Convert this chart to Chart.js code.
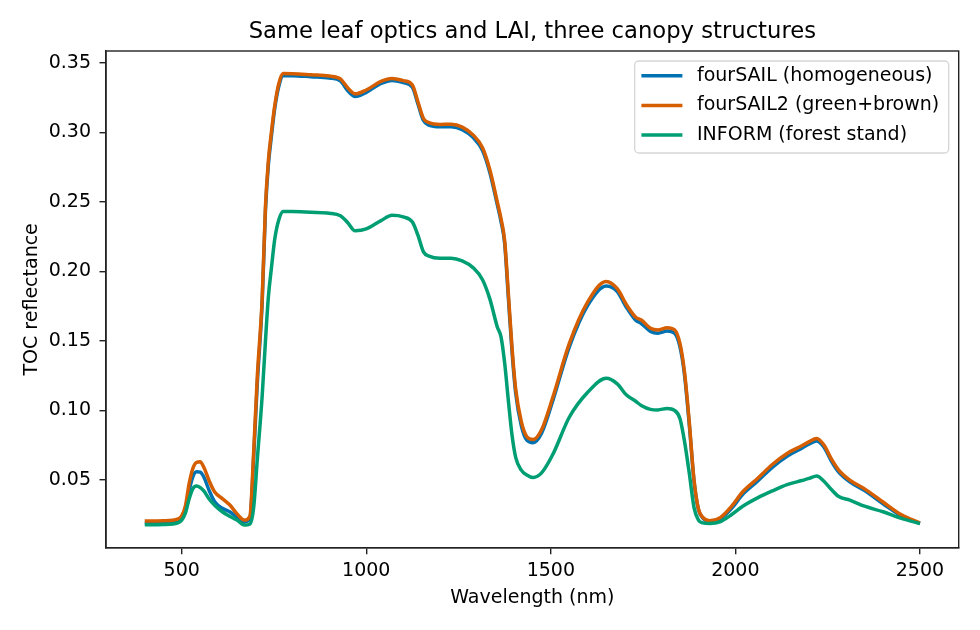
<!DOCTYPE html>
<html>
<head>
<meta charset="utf-8">
<script src="https://cdn.jsdelivr.net/npm/chart.js@4/dist/chart.umd.min.js"></script>
<style>
  html, body { margin: 0; padding: 0; background: #fff; }
  #wrap { width: 980px; height: 630px; }
</style>
</head>
<body>
<div id="wrap"><canvas id="reflChart" width="980" height="630"></canvas></div>
<script>
// wavelengths (nm) and TOC reflectance
const wavelengths = [400, 450, 490, 500, 510, 520, 530, 540, 550, 560, 575, 590, 610, 630, 650, 670, 685, 695, 705, 718,
  727, 735, 743, 752, 763, 775, 800, 850, 900, 930, 950, 970, 1000, 1040, 1070, 1100, 1125, 1140, 1155, 1170,
  1200, 1230, 1260, 1290, 1315, 1335, 1355, 1365, 1375, 1385, 1395, 1405, 1420, 1435, 1452, 1475, 1505, 1550, 1600, 1650,
  1680, 1705, 1730, 1745, 1770, 1790, 1815, 1835, 1850, 1862, 1875, 1888, 1900, 1912, 1930, 1960, 1990, 2020, 2060, 2100,
  2140, 2180, 2200, 2220, 2240, 2260, 2280, 2310, 2350, 2400, 2450, 2500];

const fourSAIL = [0.019, 0.0192, 0.0205, 0.0225, 0.029, 0.042, 0.052, 0.0558, 0.0555, 0.052, 0.042, 0.034, 0.0295, 0.027, 0.0232, 0.0197, 0.022, 0.066, 0.12, 0.177,
  0.244, 0.277, 0.297, 0.317, 0.333, 0.3408, 0.3408, 0.34, 0.3391, 0.337, 0.33, 0.3258, 0.3288, 0.3352, 0.3374, 0.3358, 0.3325, 0.3205, 0.3085, 0.3052,
  0.304, 0.304, 0.302, 0.2962, 0.287, 0.271, 0.248, 0.236, 0.22, 0.181, 0.142, 0.112, 0.089, 0.0785, 0.0767, 0.0835, 0.1065, 0.1455, 0.1755, 0.1895,
  0.1855, 0.174, 0.1648, 0.1625, 0.1568, 0.1555, 0.157, 0.1555, 0.1455, 0.126, 0.09, 0.049, 0.0285, 0.0225, 0.02, 0.0222, 0.0295, 0.0395, 0.049, 0.059,
  0.067, 0.0728, 0.0758, 0.078, 0.0735, 0.0635, 0.0555, 0.0485, 0.0422, 0.0328, 0.024, 0.0185];

const fourSAIL2 = [0.0203, 0.0205, 0.0218, 0.024, 0.031, 0.047, 0.058, 0.0625, 0.063, 0.059, 0.049, 0.041, 0.0365, 0.032, 0.0255, 0.021, 0.024, 0.07, 0.125, 0.18,
  0.247, 0.28, 0.3, 0.319, 0.335, 0.3423, 0.3422, 0.3414, 0.3405, 0.3385, 0.332, 0.3277, 0.3305, 0.3367, 0.3388, 0.3372, 0.334, 0.322, 0.31, 0.307,
  0.3057, 0.3058, 0.3038, 0.298, 0.289, 0.273, 0.25, 0.238, 0.222, 0.184, 0.145, 0.115, 0.092, 0.081, 0.079, 0.086, 0.109, 0.148, 0.178, 0.1927,
  0.1875, 0.176, 0.167, 0.165, 0.159, 0.1578, 0.1595, 0.158, 0.148, 0.128, 0.092, 0.05, 0.029, 0.023, 0.0205, 0.023, 0.031, 0.0414, 0.051, 0.061,
  0.069, 0.0745, 0.0775, 0.0798, 0.075, 0.065, 0.057, 0.0498, 0.0435, 0.034, 0.0248, 0.019];

const inform = [0.0176, 0.0178, 0.019, 0.021, 0.026, 0.036, 0.0435, 0.0455, 0.0445, 0.042, 0.036, 0.0315, 0.027, 0.0238, 0.021, 0.0174, 0.0182, 0.03, 0.065, 0.11,
  0.15, 0.182, 0.202, 0.223, 0.237, 0.2431, 0.243, 0.2425, 0.2418, 0.24, 0.235, 0.2292, 0.2305, 0.2365, 0.2403, 0.2392, 0.2355, 0.226, 0.214, 0.211,
  0.2095, 0.2095, 0.2075, 0.2025, 0.194, 0.18, 0.16, 0.153, 0.134, 0.107, 0.082, 0.066, 0.057, 0.0535, 0.0517, 0.055, 0.068, 0.095, 0.113, 0.123,
  0.119, 0.111, 0.1065, 0.1035, 0.1007, 0.1003, 0.1014, 0.1, 0.094, 0.078, 0.055, 0.03, 0.021, 0.019, 0.0186, 0.02, 0.025, 0.031, 0.037, 0.042,
  0.0465, 0.0495, 0.051, 0.0527, 0.049, 0.043, 0.038, 0.0354, 0.031, 0.027, 0.0222, 0.0186];

const seriesLabels = ['fourSAIL (homogeneous)', 'fourSAIL2 (green+brown)', 'INFORM (forest stand)'];
const seriesColors = ['#0072B2', '#D55E00', '#009E73'];
const xTicks = [500, 1000, 1500, 2000, 2500];
const yTicks = [0.05, 0.10, 0.15, 0.20, 0.25, 0.30, 0.35];
const chartTitle = 'Same leaf optics and LAI, three canopy structures';

const FONT = "'DejaVu Sans', sans-serif";

function toPoints(values) {
  return wavelengths.map((w, i) => ({ x: w, y: values[i] }));
}

// matplotlib-like 5% margins
const allY = fourSAIL.concat(fourSAIL2, inform);
const yLo = Math.min(...allY), yHi = Math.max(...allY);
const xLo = Math.min(...wavelengths), xHi = Math.max(...wavelengths);
const yPad = (yHi - yLo) * 0.05, xPad = (xHi - xLo) * 0.05;

// box around the axes + title centred over the plot area
const frame = {
  id: 'frame',
  afterDraw(chart) {
    const { ctx, chartArea: a } = chart;
    ctx.save();
    ctx.strokeStyle = '#222';
    ctx.lineWidth = 1.4;
    ctx.strokeRect(a.left, a.top, a.right - a.left, a.bottom - a.top);
    ctx.fillStyle = '#000';
    ctx.font = '22.7px ' + FONT;
    ctx.textAlign = 'center';
    ctx.textBaseline = 'middle';
    ctx.fillText(chartTitle, (a.left + a.right) / 2, a.top - 19);
    ctx.restore();
  }
};

const legendBox = {
  id: 'legendBox',
  afterDraw(chart) {
    const { ctx, chartArea: a } = chart;
    const w = 314, h = 92;
    const x = a.right - 10 - w, y = a.top + 10;
    ctx.save();
    ctx.fillStyle = 'rgba(255,255,255,0.8)';
    ctx.strokeStyle = '#d6d6d6';
    ctx.lineWidth = 1.3;
    ctx.beginPath();
    ctx.roundRect(x, y, w, h, 4);
    ctx.fill();
    ctx.stroke();
    ctx.font = '19px ' + FONT;
    ctx.textBaseline = 'middle';
    ctx.textAlign = 'left';
    chart.data.datasets.forEach((ds, i) => {
      const ry = y + 14.7 + i * 29.7;
      ctx.strokeStyle = ds.borderColor;
      ctx.lineWidth = 3.5;
      ctx.beginPath();
      ctx.moveTo(x + 6.7, ry);
      ctx.lineTo(x + 47.7, ry);
      ctx.stroke();
      ctx.fillStyle = '#000';
      ctx.fillText(ds.label, x + 62.3, ry);
    });
    ctx.restore();
  }
};

const datasets = [fourSAIL, fourSAIL2, inform].map((vals, i) => ({
  label: seriesLabels[i],
  data: toPoints(vals),
  borderColor: seriesColors[i],
  backgroundColor: seriesColors[i],
  borderWidth: 3.5,
  pointRadius: 0,
  cubicInterpolationMode: 'monotone',
  fill: false,
  order: 3 - i
}));

new Chart(document.getElementById('reflChart').getContext('2d'), {
  type: 'line',
  data: { datasets: datasets },
  plugins: [frame, legendBox],
  options: {
    responsive: false,
    animation: false,
    layout: { padding: { left: 12, top: 51, right: 21.3, bottom: 0 } },
    plugins: {
      legend: { display: false },
      tooltip: { enabled: false },
      title: { display: false }
    },
    scales: {
      x: {
        type: 'linear',
        min: xLo - xPad,
        max: xHi + xPad,
        afterBuildTicks: s => { s.ticks = xTicks.map(v => ({ value: v })); },
        afterFit: s => { s.height = 82.3; },
        grid: { display: true, drawOnChartArea: false, drawTicks: true, tickLength: 6.5, color: '#222', lineWidth: 1.4 },
        border: { display: true, color: '#222', width: 1.4 },
        ticks: { color: '#000', font: { family: FONT, size: 19 }, padding: 5, maxRotation: 0, callback: v => String(v) },
        title: { display: true, text: 'Wavelength (nm)', color: '#000', font: { family: FONT, size: 19 }, padding: { top: 0, bottom: 21 } }
      },
      y: {
        type: 'linear',
        min: yLo - yPad,
        max: yHi + yPad,
        afterBuildTicks: s => { s.ticks = yTicks.map(v => ({ value: v })); },
        afterFit: s => { s.width = 94; },
        grid: { display: true, drawOnChartArea: false, drawTicks: true, tickLength: 6.5, color: '#222', lineWidth: 1.4 },
        border: { display: true, color: '#222', width: 1.4 },
        ticks: { color: '#000', font: { family: FONT, size: 19 }, padding: 8.5, callback: v => v.toFixed(2) },
        title: { display: true, text: 'TOC reflectance', color: '#000', font: { family: FONT, size: 19 }, padding: { top: 9, bottom: 0 } }
      }
    }
  }
});
</script>
</body>
</html>
